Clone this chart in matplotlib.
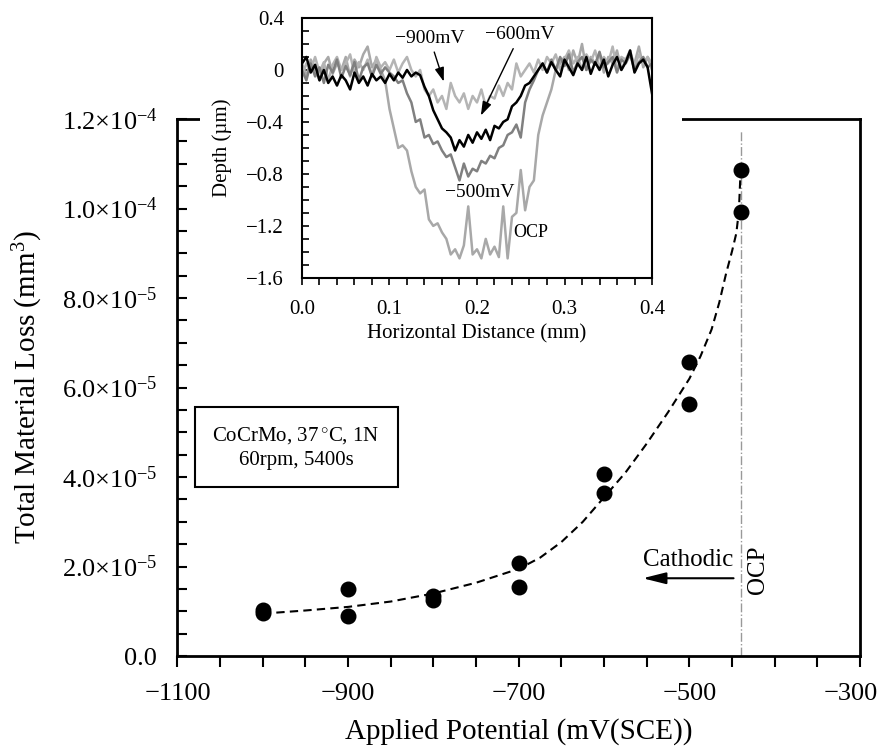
import numpy as np
import matplotlib
matplotlib.use("Agg")
import matplotlib.pyplot as plt
from matplotlib.patches import Rectangle
from matplotlib.ticker import MultipleLocator, FixedLocator
from matplotlib.transforms import ScaledTranslation

plt.rcParams['font.family'] = ['Liberation Serif', 'DejaVu Serif']
plt.rcParams['mathtext.fontset'] = 'custom'
plt.rcParams['mathtext.rm'] = 'Liberation Serif'
plt.rcParams['mathtext.it'] = 'Liberation Serif:italic'

# main plot data (mV vs SCE, mm^3)
potential = [-1000, -1000, -900, -900, -800, -800, -700, -700, -600, -600, -500, -500, -440, -440]
loss = [0.96e-5, 1.02e-5, 1.50e-5, 0.89e-5, 1.34e-5, 1.25e-5, 2.08e-5, 1.54e-5,
        4.08e-5, 3.64e-5, 6.58e-5, 5.63e-5, 10.87e-5, 9.93e-5]

# dashed trend line
fit_x = [-1000, -950, -900, -850, -800, -750, -700, -675, -650, -625, -600, -575, -550,
         -525, -500, -487, -474, -465, -457, -450, -445, -442, -440]
fit_y = [0.95e-5, 1.02e-5, 1.10e-5, 1.22e-5, 1.40e-5, 1.64e-5, 1.95e-5, 2.20e-5, 2.55e-5,
         3.00e-5, 3.55e-5, 4.10e-5, 4.75e-5, 5.45e-5, 6.20e-5, 6.70e-5, 7.30e-5, 7.90e-5,
         8.55e-5, 9.05e-5, 9.45e-5, 9.95e-5, 10.85e-5]

ocp_potential = -440

yticks = [0, 2e-5, 4e-5, 6e-5, 8e-5, 10e-5, 12e-5]
ytick_labels = ['0.0', r'2.0$\times$10$^{-5}$', r'4.0$\times$10$^{-5}$', r'6.0$\times$10$^{-5}$',
                r'8.0$\times$10$^{-5}$', r'1.0$\times$10$^{-4}$', r'1.2$\times$10$^{-4}$']
xticks = [-1100, -900, -700, -500, -300]
xtick_labels = ['\u22121100', '\u2212900', '\u2212700', '\u2212500', '\u2212300']

# inset profiles (mm, um)
dist = np.round(np.arange(0, 0.4001, 0.005), 3)
prof_ocp = [0.05, -0.05, 0.08, 0.00, -0.08, 0.05, 0.10, -0.03, 0.05, 0.00,
            0.10, -0.05, 0.08, 0.02, 0.12, 0.18, 0.02, 0.08, 0.00, -0.08,
            -0.30, -0.45, -0.60, -0.58, -0.62, -0.78, -0.90, -0.95, -0.92, -1.15,
            -1.20, -1.18, -1.25, -1.30, -1.42, -1.38, -1.45, -1.35, -1.05, -1.42,
            -1.38, -1.45, -1.30, -1.42, -1.36, -1.44, -1.05, -1.45, -1.13, -1.10,
            -0.77, -1.08, -0.90, -0.85, -0.50, -0.35, -0.25, -0.15, 0.00, 0.05,
            0.10, 0.00, 0.15, 0.05, 0.20, 0.00, 0.10, 0.05, 0.12, -0.02,
            0.10, 0.05, 0.15, 0.00, 0.08, 0.12, 0.05, 0.18, 0.02, 0.10, 0.00]
prof_900 = [-0.05, 0.05, 0.00, 0.10, -0.02, 0.06, -0.08, 0.04, 0.10, 0.00,
            0.05, 0.12, -0.03, 0.06, 0.00, 0.08, -0.05, 0.10, 0.02, 0.06,
            0.00, 0.08, -0.02, 0.05, 0.10, 0.00, -0.05, 0.00, -0.15, -0.20,
            -0.15, -0.25, -0.20, -0.30, -0.10, -0.20, -0.25, -0.18, -0.30, -0.20,
            -0.25, -0.15, -0.28, -0.20, -0.22, -0.12, -0.20, -0.10, -0.15, 0.05,
            -0.05, 0.00, 0.05, -0.02, 0.08, 0.00, 0.10, 0.05, 0.12, 0.00,
            0.08, 0.15, 0.05, 0.10, 0.00, 0.12, 0.06, 0.15, 0.02, 0.10,
            0.05, 0.18, 0.00, 0.10, 0.08, 0.15, 0.02, 0.12, 0.05, 0.10, 0.05]
prof_500 = [0.00, -0.08, 0.05, -0.05, 0.02, -0.10, 0.04, -0.02, 0.08, -0.06,
            0.03, -0.04, 0.06, -0.08, 0.02, 0.05, -0.05, 0.04, -0.03, 0.02,
            -0.02, -0.05, -0.10, -0.08, -0.18, -0.25, -0.40, -0.38, -0.52, -0.50,
            -0.57, -0.55, -0.62, -0.67, -0.65, -0.75, -0.85, -0.72, -0.82, -0.76,
            -0.78, -0.70, -0.72, -0.66, -0.68, -0.60, -0.58, -0.50, -0.48, -0.42,
            -0.52, -0.25, -0.15, -0.08, 0.00, 0.05, -0.02, 0.08, 0.00, 0.10,
            0.03, 0.12, -0.02, 0.06, 0.10, 0.00, 0.08, 0.04, 0.14, 0.02,
            0.06, 0.10, -0.02, 0.08, 0.05, 0.12, 0.00, 0.06, 0.10, 0.02, 0.05]
prof_600 = [0.05, 0.10, -0.02, 0.04, -0.08, 0.00, -0.10, -0.05, -0.12, -0.04,
            -0.08, -0.15, -0.02, -0.10, -0.05, -0.12, -0.03, -0.08, -0.05, -0.10,
            -0.03, -0.08, -0.02, -0.06, 0.00, -0.05, -0.02, -0.04, -0.13, -0.20,
            -0.31, -0.38, -0.45, -0.48, -0.52, -0.62, -0.54, -0.59, -0.50, -0.56,
            -0.48, -0.53, -0.46, -0.54, -0.43, -0.45, -0.40, -0.38, -0.28, -0.25,
            -0.20, -0.12, -0.10, -0.05, 0.00, 0.05, -0.02, 0.06, 0.00, -0.05,
            0.08, 0.02, -0.04, 0.05, 0.00, 0.10, -0.03, 0.06, 0.00, 0.08,
            -0.05, 0.04, 0.10, 0.00, 0.06, 0.15, -0.02, 0.05, 0.08, 0.02, -0.18]

fig = plt.figure(figsize=(8.83, 7.49), dpi=100)
ax = fig.add_axes([0.201, 0.124, 0.773, 0.717])

ax.plot(fit_x, fit_y, color='black', ls=(0, (4, 2.5)), lw=1.5, zorder=2)
ax.scatter(potential, loss, s=110, color='black', zorder=3)
ax.axvline(ocp_potential, ymax=0.98, color='#999999', ls='-.', lw=1.0, zorder=1)

ax.set_xlim(-1100, -300)
ax.set_ylim(0, 1.2e-4)
ax.xaxis.set_major_locator(FixedLocator(xticks))
ax.set_xticklabels(xtick_labels)
ax.xaxis.set_minor_locator(MultipleLocator(50))
ax.yaxis.set_major_locator(FixedLocator(yticks))
ax.set_yticklabels(ytick_labels)
ax.yaxis.set_minor_locator(MultipleLocator(0.5e-5))
ax.tick_params(axis='x', which='both', direction='out', length=8, width=1.5, labelsize=19, pad=11)
ax.tick_params(axis='y', which='both', direction='in', length=7, width=1.5, labelsize=19, pad=14.5)
for s in ax.spines.values():
    s.set_linewidth(2)
# last label sits a little left, as in the original
lab = ax.get_xticklabels()[-1]
lab.set_transform(lab.get_transform() + ScaledTranslation(-9 / 100, 0, fig.dpi_scale_trans))

ax.set_xlabel('Applied Potential (mV(SCE))', fontsize=21, labelpad=10)
ax.set_ylabel('Total Material Loss (mm$^3$)', fontsize=21, labelpad=12)

ax.text(-961, 4.67e-5, 'CoCrMo, 37$\\,^{\\circ}$C, 1N\n60rpm, 5400s', fontsize=15,
        ha='center', va='center', multialignment='center', linespacing=1.35,
        bbox=dict(boxstyle='square,pad=0.85', fc='white', ec='black', lw=1.5))

ax.annotate('', xy=(-558, 1.74e-5), xytext=(-445, 1.74e-5),
            arrowprops=dict(arrowstyle='-|>,head_length=1.4,head_width=0.35', color='black', lw=1.5))
ax.text(-502, 2.15e-5, 'Cathodic', fontsize=18, ha='center', va='center')
ax.text(-420, 1.92e-5, 'OCP', fontsize=18, ha='center', va='center', rotation=90)

# white block hiding main frame behind the inset
fig.patches.append(Rectangle((0.2265, 0.55), 0.5455, 0.45, transform=fig.transFigure,
                             facecolor='white', edgecolor='none', zorder=1))

axi = fig.add_axes([0.342, 0.629, 0.3964, 0.347])
axi.set_zorder(2)
axi.plot(dist, prof_ocp, color='#a8a8a8', lw=1.8)
axi.plot(dist, prof_900, color='#b4b4b4', lw=1.8)
axi.plot(dist, prof_500, color='#808080', lw=1.8)
axi.plot(dist, prof_600, color='black', lw=1.8)
axi.set_xlim(0, 0.4)
axi.set_ylim(-1.6, 0.4)
axi.xaxis.set_major_locator(MultipleLocator(0.1))
axi.xaxis.set_minor_locator(MultipleLocator(0.02))
axi.yaxis.set_major_locator(MultipleLocator(0.4))
axi.yaxis.set_minor_locator(MultipleLocator(0.1))
axi.xaxis.set_major_formatter(lambda v, p: f'{v:.1f}')
axi.yaxis.set_major_formatter(lambda v, p: '0' if abs(v) < 1e-9 else f'{v:.1f}'.replace('-', '\u2212'))
axi.tick_params(axis='x', which='both', direction='out', length=5, width=1.2, labelsize=15, pad=11)
axi.tick_params(axis='y', which='both', direction='in', length=5, width=1.2, labelsize=15, pad=13)
for s in axi.spines.values():
    s.set_linewidth(1.5)
axi.set_xlabel('Horizontal Distance (mm)', fontsize=15, labelpad=4)
axi.set_ylabel('Depth (\u00b5m)', fontsize=15, labelpad=10)

axi.annotate('\u2212900mV', xy=(0.163, -0.11), xytext=(0.146, 0.245), fontsize=14,
             ha='center', va='center',
             arrowprops=dict(arrowstyle='-|>,head_length=0.6,head_width=0.2', color='black', lw=1))
axi.annotate('\u2212600mV', xy=(0.203, -0.37), xytext=(0.249, 0.27), fontsize=14,
             ha='center', va='center',
             arrowprops=dict(arrowstyle='-|>,head_length=0.6,head_width=0.2', color='black', lw=1))
axi.text(0.203, -0.94, '\u2212500mV', fontsize=14, ha='center', va='center')
axi.text(0.262, -1.25, 'OCP', fontsize=13, ha='center', va='center')

fig.savefig('out.png', dpi=100)
